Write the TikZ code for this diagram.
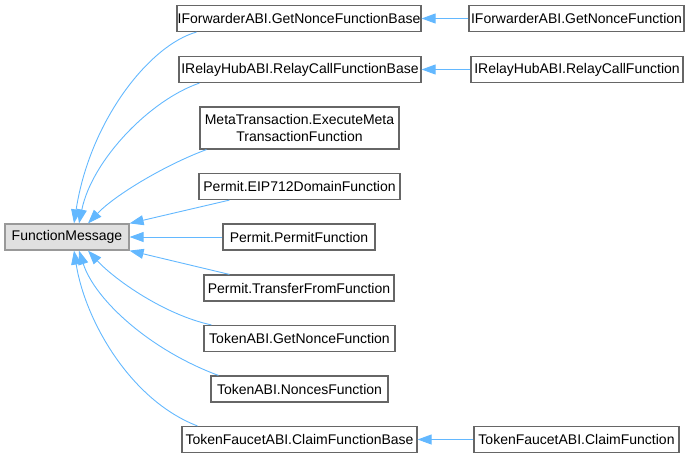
\documentclass[tikz,border=0pt]{standalone}
\usepackage{fontspec}
\setmainfont{Liberation Sans}
\usetikzlibrary{arrows.meta}

\definecolor{edgeblue}{HTML}{63B8FF}
\definecolor{boxgray}{HTML}{666666}
\definecolor{basefill}{HTML}{E0E0E0}
\definecolor{baseline}{HTML}{999999}

\begin{document}
\begin{tikzpicture}[
        x=1pt, y=-1pt,
        cls/.style={draw=boxgray, fill=white, line width=1.2pt, inner sep=0pt,
            minimum height=26pt, align=center, font=\fontsize{14pt}{16.5pt}\selectfont},
        basecls/.style={cls, fill=basefill, draw=baseline},
        inh/.style={-{Triangle[length=14pt, width=10pt]}, draw=edgeblue, line width=0.9pt}
    ]
    \useasboundingbox (0,0) rectangle (690,459);

    %% ---- Base class ----
    \node[basecls, minimum width=124pt] (fm) at (67,237) {FunctionMessage};

    %% ---- Derived classes ----
    \node[cls, minimum width=244pt] (fwb) at (299,18.5) {IForwarderABI.GetNonceFunctionBase};
    \node[cls, minimum width=215pt] (fwf) at (576.5,18.5) {IForwarderABI.GetNonceFunction};
    \node[cls, minimum width=242pt] (rhb) at (300,69.5) {IRelayHubABI.RelayCallFunctionBase};
    \node[cls, minimum width=212pt] (rhf) at (577,69.5) {IRelayHubABI.RelayCallFunction};
    \node[cls, minimum width=199pt, minimum height=42pt] (meta) at (299.5,128)
        {MetaTransaction.ExecuteMeta\\TransactionFunction};
    \node[cls, minimum width=201pt] (eip) at (299.5,186.5) {Permit.EIP712DomainFunction};
    \node[cls, minimum width=152pt] (pf) at (299,237) {Permit.PermitFunction};
    \node[cls, minimum width=190pt] (tf) at (299,288) {Permit.TransferFromFunction};
    \node[cls, minimum width=191pt] (tgn) at (299.5,338.5) {TokenABI.GetNonceFunction};
    \node[cls, minimum width=177pt] (tn) at (299.5,389) {TokenABI.NoncesFunction};
    \node[cls, minimum width=235pt] (tfb) at (299.5,439.5) {TokenFaucetABI.ClaimFunctionBase};
    \node[cls, minimum width=205pt] (tfc) at (576.5,439.5) {TokenFaucetABI.ClaimFunction};

    %% ---- Second level ----
    \draw[inh] (fwf) -- (fwb);
    \draw[inh] (rhf) -- (rhb);
    \draw[inh] (tfc) -- (tfb);

    %% ---- Edges into FunctionMessage ----
    \draw[inh] ([xshift=20pt]fwb.south west) .. controls (150,45) and (90,120) .. ([xshift=7pt]fm.north);
    \draw[inh] ([xshift=21pt]rhb.south west) .. controls (150,100) and (92,160) .. ([xshift=12pt]fm.north);
    \draw[inh] ([xshift=7pt]meta.south west) .. controls (165,165) and (115,195) .. ([xshift=21pt]fm.north);
    \draw[inh] ([xshift=31pt]eip.south west) -- (fm.north east);
    \draw[inh] (pf) -- (fm);
    \draw[inh] ([xshift=26pt]tf.north west) -- (fm.south east);
    \draw[inh] ([xshift=8pt]tgn.north west) .. controls (165,315) and (115,280) .. ([xshift=21pt]fm.south);
    \draw[inh] ([xshift=8pt]tn.north west) .. controls (150,350) and (95,300) .. ([xshift=12pt]fm.south);
    \draw[inh] ([xshift=16pt]tfb.north west) .. controls (130,400) and (85,320) .. ([xshift=7pt]fm.south);

\end{tikzpicture}
\end{document}
